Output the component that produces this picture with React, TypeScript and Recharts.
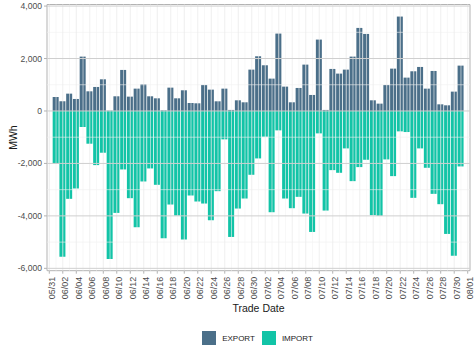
import React from 'react';
import { BarChart, Bar, XAxis, YAxis, ReferenceLine, ReferenceArea, Legend } from 'recharts';

// trade dates shown on the axis, 05/31 .. 08/01 (bars run 06/01 .. 07/31)
const dates = [
  '05/31', '06/01', '06/02', '06/03', '06/04', '06/05', '06/06', '06/07', '06/08', '06/09',
  '06/10', '06/11', '06/12', '06/13', '06/14', '06/15', '06/16', '06/17', '06/18', '06/19',
  '06/20', '06/21', '06/22', '06/23', '06/24', '06/25', '06/26', '06/27', '06/28', '06/29',
  '06/30', '07/01', '07/02', '07/03', '07/04', '07/05', '07/06', '07/07', '07/08', '07/09',
  '07/10', '07/11', '07/12', '07/13', '07/14', '07/15', '07/16', '07/17', '07/18', '07/19',
  '07/20', '07/21', '07/22', '07/23', '07/24', '07/25', '07/26', '07/27', '07/28', '07/29',
  '07/30', '07/31', '08/01',
];

const exportMWh = [
  534, 369, 661, 458, 2073, 750, 916, 1208, 15, 560,
  1565, 547, 852, 1018, 560, 483, 25, 890, 483, 789,
  305, 293, 992, 814, 369, 852, 40, 407, 331, 1577,
  2086, 1743, 1234, 2951, 929, 331, 878, 1768, 611, 2722,
  40, 1603, 1425, 1577, 2073, 3167, 2938, 407, 280, 992,
  1615, 3600, 1272, 1514, 1679, 852, 1526, 254, 216, 738,
  1730,
];

const importMWh = [
  -2013, -5554, -3350, -2955, -611, -1248, -2064, -1592, -5643, -3886,
  -2230, -3325, -4433, -2688, -2191, -2815, -4854, -3567, -3988, -4905,
  -3223, -3452, -3529, -4166, -3058, -1083, -4803, -3720, -3338, -2433,
  -1809, -981, -3860, -739, -3338, -3707, -3274, -3911, -4612, -854,
  -3797, -2255, -2357, -1427, -2675, -2140, -1860, -3975, -4000, -1847,
  -2484, -777, -803, -3312, -1427, -2166, -3160, -3554, -4688, -5516,
  -2115,
];

const yTicks = [-6000, -4000, -2000, 0, 2000, 4000];
const yMinor = [-5000, -3000, -1000, 1000, 3000];

const EXPORT_COLOR = '#4B6F89';
const IMPORT_COLOR = '#12C4A7';
const FONT = '"Liberation Sans", Arial, Helvetica, sans-serif';

const X_DOMAIN: [number, number] = [-0.34, dates.length - 1 + 0.34];
const Y_DOMAIN: [number, number] = [-6090, 4060];

const data = exportMWh.map((v, i) => ({
  idx: i + 1,
  date: dates[i + 1],
  EXPORT: v,
  IMPORT: importMWh[i],
}));

const dayIdx = dates.map((_, i) => i);
const xTicks = dayIdx.filter((i) => i % 2 === 0);
const xMinor = dayIdx.filter((i) => i % 2 === 1);

const DateTick = ({ x, y, payload }: any) => (
  <text
    x={0}
    y={0}
    transform={`translate(${x},${y}) rotate(-90)`}
    textAnchor="end"
    dy="0.62em"
    fontSize={9}
    fill="#4d4d4d"
    fontFamily={FONT}
  >
    {dates[payload.value]}
  </text>
);

const LegendBox = () => (
  <div
    style={{
      display: 'flex',
      justifyContent: 'center',
      alignItems: 'flex-start',
      height: 30,
      paddingLeft: 48,
      paddingTop: 6,
      boxSizing: 'border-box',
      fontFamily: FONT,
      fontSize: 8,
      color: '#1a1a1a',
    }}
  >
    {[
      { name: 'EXPORT', color: EXPORT_COLOR },
      { name: 'IMPORT', color: IMPORT_COLOR },
    ].map((item) => (
      <div key={item.name} style={{ display: 'flex', alignItems: 'center', marginRight: 7 }}>
        <span style={{ width: 14, height: 14, background: item.color, display: 'inline-block' }} />
        <span style={{ marginLeft: 6 }}>{item.name}</span>
      </div>
    ))}
  </div>
);

const App: React.FC = () => {
  return (
    <div style={{ position: 'absolute', left: 0, top: 0, width: 474, height: 355, background: '#fff', fontFamily: FONT }}>
      <BarChart
        width={474}
        height={355}
        data={data}
        stackOffset="sign"
        margin={{ top: 4.5, right: 4, left: 0, bottom: 0 }}
      >
        <XAxis
          dataKey="idx"
          type="number"
          domain={X_DOMAIN}
          ticks={xTicks}
          interval={0}
          height={54.3}
          tick={<DateTick />}
          tickSize={3}
          tickMargin={3}
          tickLine={{ stroke: '#b3b3b3' }}
          axisLine={false}
          label={{
            content: (props: any) => {
              const vb = props.viewBox;
              return (
                <text
                  x={vb.x + vb.width / 2}
                  y={311.5}
                  textAnchor="middle"
                  fontSize={10.5}
                  fill="#1a1a1a"
                  fontFamily={FONT}
                >
                  Trade Date
                </text>
              );
            },
          }}
        />
        <YAxis
          type="number"
          domain={Y_DOMAIN}
          ticks={yTicks}
          width={47}
          tickSize={3}
          tickMargin={2}
          tickLine={{ stroke: '#b3b3b3' }}
          axisLine={false}
          tick={{ fontSize: 8.6, fill: '#4d4d4d', fontFamily: FONT }}
          tickFormatter={(v: number) => v.toLocaleString('en-US')}
          label={{
            content: (props: any) => {
              const vb = props.viewBox;
              const cy = vb.y + vb.height / 2;
              return (
                <text
                  x={13}
                  y={cy}
                  transform={`rotate(-90 13 ${cy})`}
                  textAnchor="middle"
                  dominantBaseline="central"
                  fontSize={10.5}
                  fill="#1a1a1a"
                  fontFamily={FONT}
                >
                  MWh
                </text>
              );
            },
          }}
        />
        {yMinor.map((v) => (
          <ReferenceLine key={`ym${v}`} y={v} stroke="#f0f0f0" strokeWidth={0.6} />
        ))}
        {xMinor.map((v) => (
          <ReferenceLine key={`xm${v}`} x={v} stroke="#f3f3f3" strokeWidth={0.6} />
        ))}
        {xTicks.map((v) => (
          <ReferenceLine key={`xM${v}`} x={v} stroke="#ebebeb" strokeWidth={0.8} />
        ))}
        {yTicks.map((v) => (
          <ReferenceLine key={`yM${v}`} y={v} stroke="#cfcfcf" strokeWidth={1} />
        ))}
        <Legend verticalAlign="bottom" height={30} wrapperStyle={{ left: 0, width: 474 }} content={<LegendBox />} />
        <Bar dataKey="EXPORT" stackId="a" fill={EXPORT_COLOR} barSize={6} isAnimationActive={false} />
        <Bar dataKey="IMPORT" stackId="a" fill={IMPORT_COLOR} barSize={6} isAnimationActive={false} />
        <ReferenceArea
          x1={X_DOMAIN[0]}
          x2={X_DOMAIN[1]}
          y1={Y_DOMAIN[0]}
          y2={Y_DOMAIN[1]}
          fill="none"
          fillOpacity={0}
          stroke="#b3b3b3"
          strokeWidth={1}
        />
      </BarChart>
    </div>
  );
};

export default App;
